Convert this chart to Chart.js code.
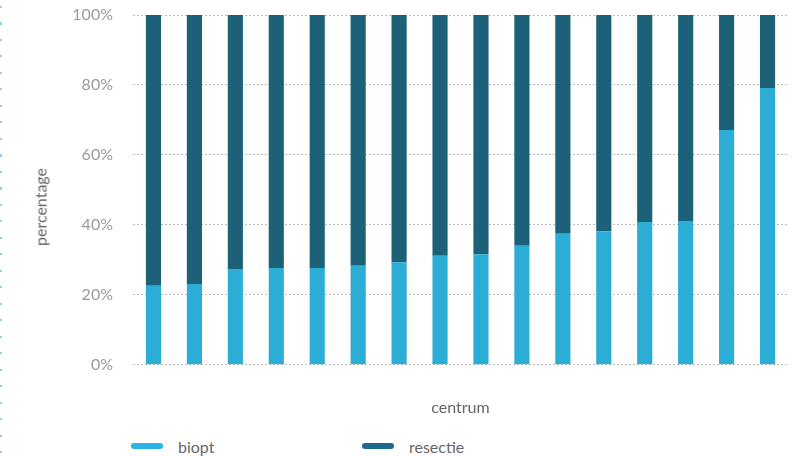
<!DOCTYPE html>
<html>
<head>
<meta charset="utf-8">
<script src="https://cdn.jsdelivr.net/npm/chart.js@4/dist/chart.umd.min.js"></script>
<style>
  html, body { margin: 0; padding: 0; background: #fff; }
  #wrap { position: relative; width: 801px; height: 456px; overflow: hidden; }
  #edge {
    position: absolute; left: 0; top: 6px; width: 2px; height: 450px;
    background: repeating-linear-gradient(to bottom, #8fd0ea 0 2px, transparent 2px 16.5px);
  }
  #chartBox { position: absolute; left: 0; top: 0; width: 801px; height: 425px; }
  #yTitle {
    position: absolute; left: 40px; top: 207px; transform: translate(-50%, -50%) rotate(-90deg);
    font-family: Lato, sans-serif; font-size: 16px; color: #666; white-space: nowrap;
  }
  #legend { position: absolute; top: 435px; left: 131px; font-family: Lato, sans-serif; font-size: 16px; color: #666; }
  .item { position: absolute; top: 0; white-space: nowrap; display: flex; align-items: center; height: 22px; }
  .swatch { width: 32px; height: 6px; border-radius: 3px; margin-right: 15px; }
</style>
</head>
<body>
<div id="wrap">
  <div id="edge"></div>
  <div id="chartBox"><canvas id="myBarChart"></canvas></div>
  <div id="yTitle">percentage</div>
  <div id="legend"></div>
</div>
<script>
// share per centrum (percent), sorted by biopt
var centra = ["1", "2", "3", "4", "5", "6", "7", "8", "9", "10", "11", "12", "13", "14", "15", "16"];
var biopt = [22.6, 23.1, 27.4, 27.7, 27.7, 28.3, 29.3, 31.2, 31.6, 34.0, 37.5, 38.2, 40.8, 41.1, 67.1, 79.1];
var resectie = biopt.map(function (v) { return Math.round((100 - v) * 10) / 10; });
var yTicks = [0, 20, 40, 60, 80, 100];

var data = {
  labels: centra,
  datasets: [
    { label: "biopt", data: biopt, backgroundColor: "#2badd6", swatch: "#2bb3e6" },
    { label: "resectie", data: resectie, backgroundColor: "#1c6177", swatch: "#1c6a8c" },
  ],
};

var options = {
  responsive: true,
  maintainAspectRatio: false,
  animation: false,
  layout: { padding: { left: 0, right: 13, top: 6, bottom: 0 } },
  datasets: { bar: { barPercentage: 0.37, categoryPercentage: 1 } },
  plugins: {
    legend: { display: false },
    tooltip: { enabled: false },
  },
  scales: {
    x: {
      stacked: true,
      grid: { display: false, drawTicks: false },
      border: { display: false },
      ticks: { display: false },
      title: {
        display: true,
        text: "centrum",
        color: "#666",
        font: { family: "Lato", size: 16 },
        padding: { top: 33, bottom: 8 },
      },
    },
    y: {
      stacked: true,
      min: 0,
      max: 100,
      afterBuildTicks: function (scale) {
        scale.ticks = yTicks.map(function (v) { return { value: v }; });
      },
      afterFit: function (scale) {
        scale.width = 133;
        // the tick padding is only meant to push labels away horizontally
        scale.paddingTop = 15;
        scale.paddingBottom = 10;
      },
      grid: { color: "#bdbdbd", drawTicks: false },
      border: { display: false, dash: [2, 2] },
      ticks: {
        padding: 20,
        color: "#9a9a9a",
        font: { family: "Lato", size: 16 },
        callback: function (v) { return v + "%"; },
      },
    },
  },
};

var ctx = document.getElementById("myBarChart");
var myBarChart = new Chart(ctx, { type: "bar", data: data, options: options });

// legend below the chart
var legendLeft = [0, 231];
var legend = document.getElementById("legend");
data.datasets.forEach(function (ds, i) {
  var item = document.createElement("div");
  item.className = "item";
  item.style.left = legendLeft[i] + "px";
  var sw = document.createElement("span");
  sw.className = "swatch";
  sw.style.background = ds.swatch;
  item.appendChild(sw);
  item.appendChild(document.createTextNode(ds.label));
  legend.appendChild(item);
});
</script>
</body>
</html>
